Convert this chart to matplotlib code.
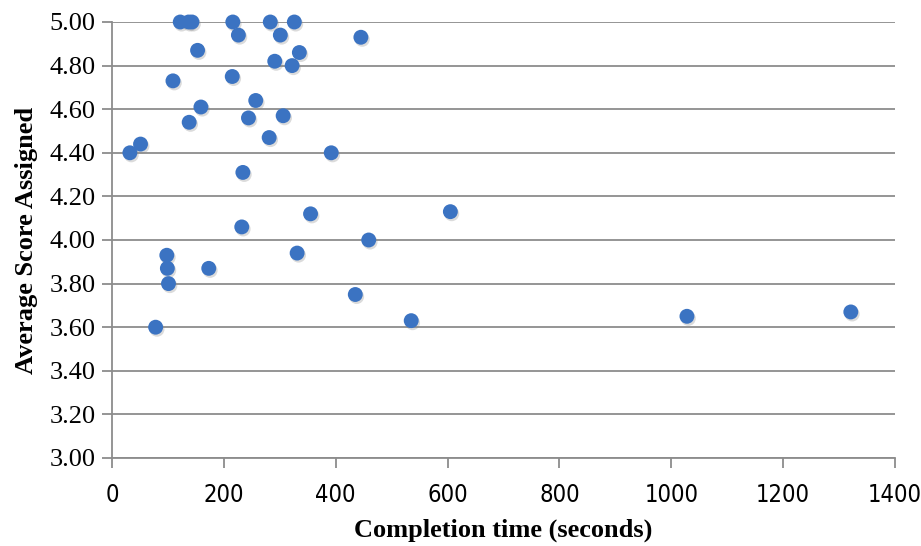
import matplotlib.pyplot as plt
import matplotlib.patheffects as pe

# completion time (seconds) and average score
times = [122, 137, 143, 216, 283, 326,
         226, 301, 445, 153, 335, 291, 322,
         109, 215, 257, 159, 138, 244, 306, 281,
         32, 51, 392, 234, 355, 605, 232, 459,
         98, 99, 101, 173, 331, 435, 535, 78,
         1028, 1321]
scores = [5.00, 5.00, 5.00, 5.00, 5.00, 5.00,
          4.94, 4.94, 4.93, 4.87, 4.86, 4.82, 4.80,
          4.73, 4.75, 4.64, 4.61, 4.54, 4.56, 4.57, 4.47,
          4.40, 4.44, 4.40, 4.31, 4.12, 4.13, 4.06, 4.00,
          3.93, 3.87, 3.80, 3.87, 3.94, 3.75, 3.63, 3.60,
          3.65, 3.67]

xticks = [0, 200, 400, 600, 800, 1000, 1200, 1400]
yticks = [3.0, 3.2, 3.4, 3.6, 3.8, 4.0, 4.2, 4.4, 4.6, 4.8, 5.0]

fig = plt.figure(figsize=(9.21, 5.46), dpi=100)
ax = fig.add_axes([112 / 921, 1 - 458 / 546, 783 / 921, 436 / 546])

ax.scatter(times, scores, s=115, color='#3b73c2', zorder=3, clip_on=False,
           path_effects=[pe.SimplePatchShadow(offset=(1, -1.5), shadow_rgbFace='#888888', alpha=0.3),
                         pe.Normal()],
           linewidths=0)

ax.set_xlim(0, 1400)
ax.set_ylim(3.0, 5.0)
ax.set_xticks(xticks)
ax.set_yticks(yticks)
ax.set_yticklabels([f'{v:.2f}' for v in yticks], fontfamily='Liberation Serif', fontsize=19)
ax.set_xticklabels([str(v) for v in xticks], fontfamily='DejaVu Sans',
                   fontstretch='condensed', fontsize=17)

ax.grid(axis='y', color='#8c8c8c', linewidth=1.3)
ax.set_axisbelow(True)
for s in ['top', 'right']:
    ax.spines[s].set_visible(False)
for s in ['left', 'bottom']:
    ax.spines[s].set_color('#8c8c8c')
    ax.spines[s].set_linewidth(1.3)
ax.tick_params(axis='both', color='#8c8c8c', width=1.3, length=7, labelcolor='black')
ax.tick_params(axis='x', pad=11)
ax.tick_params(axis='y', pad=5)

ax.set_xlabel('Completion time (seconds)', fontfamily='Liberation Serif',
              fontweight='bold', fontsize=19, labelpad=8)
ax.set_ylabel('Average Score Assigned', fontfamily='Liberation Serif',
              fontweight='bold', fontsize=19, labelpad=8)

fig.savefig('out.png', dpi=100)
